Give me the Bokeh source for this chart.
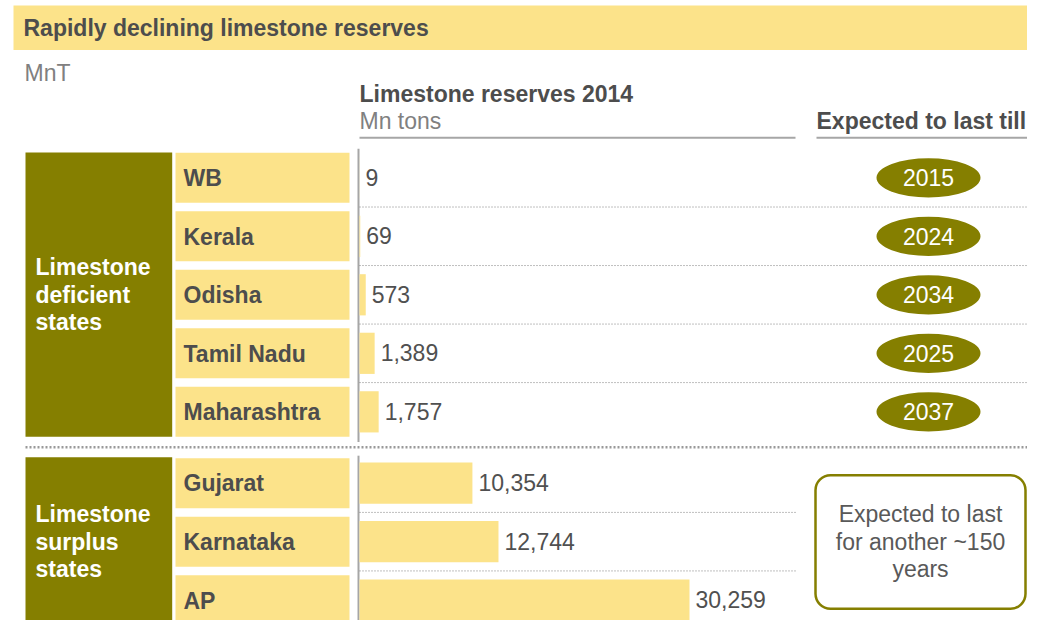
from bokeh.plotting import figure
from bokeh.models import Range1d, BoxAnnotation, ColumnDataSource
from bokeh.core.properties import value
from bokeh.embed import file_html
from bokeh.resources import INLINE

# ---------------- data ----------------
deficient_states = ["WB", "Kerala", "Odisha", "Tamil Nadu", "Maharashtra"]
deficient_reserves = [9, 69, 573, 1389, 1757]
deficient_years = ["2015", "2024", "2034", "2025", "2037"]
surplus_states = ["Gujarat", "Karnataka", "AP"]
surplus_reserves = [10354, 12744, 30259]
group_labels = [["Limestone", "deficient", "states"], ["Limestone", "surplus", "states"]]
title_text = "Rapidly declining limestone reserves"
unit_text = "MnT"
bar_title = "Limestone reserves 2014"
bar_unit = "Mn tons"
year_title = "Expected to last till"
surplus_note = ["Expected to last", "for another ~150", "years"]

# ---------------- style ----------------
YELLOW = "#FCE38A"
OLIVE = "#857F00"
DARK = "#4D4D4D"
VALC = "#505050"
GREY = "#808080"
LINEG = "#A6A6A6"
FONT = value("Liberation Sans")
FS = value("23px")
BL = "alphabetic"
YOFF = -9  # renderer places alphabetic text ~9px low

W, H = 1027, 620
p = figure(width=W, height=H, x_range=Range1d(0, W), y_range=Range1d(634, 2),
           output_backend="svg", toolbar_location=None, min_border=0,
           x_axis_type=None, y_axis_type=None, outline_line_color=None,
           background_fill_color="white", border_fill_color="white")
p.grid.visible = False

# value scale for bars: 0 -> px 359, max -> px 689
bar_x0, bar_px = 359.0, 330.0
scale = bar_px / max(surplus_reserves)
p.extra_x_ranges = {"val": Range1d(-bar_x0 / scale, (W - bar_x0) / scale)}

# row layout
pitch = 59.65
def_y = [182.7 + i * pitch for i in range(len(deficient_states))]
sur_y = [494.0 + i * pitch for i in range(len(surplus_states))]
box_h = 51
bar_h = 42
RIGHT = W


def txt(xs, ys, texts, **kw):
    opts = dict(text_font=FONT, text_font_size=FS, text_baseline=BL, y_offset=YOFF)
    opts.update(kw)
    return p.text(x=xs, y=ys, text=texts, **opts)


# title band
p.quad(left=13, right=RIGHT, top=7, bottom=52.5, fill_color=YELLOW, line_color=None)
txt([23], [39.5], [title_text], text_font_style="bold", text_color=DARK)
txt([24], [85], [unit_text], text_color=GREY)

# headers
txt([359], [106.5], [bar_title], text_font_style="bold", text_color=DARK)
txt([359], [134], [bar_unit], text_color=GREY)
txt([816], [134], [year_title], text_font_style="bold", text_color=DARK)
p.segment(x0=[359, 816], y0=[142, 142], x1=[795, RIGHT], y1=[142, 142],
          line_color=LINEG, line_width=2)

# olive group blocks
p.quad(left=[25, 25], right=[171.7, 171.7],
       top=[def_y[0] - box_h / 2 - 0.3, sur_y[0] - box_h / 2 - 1],
       bottom=[def_y[-1] + box_h / 2, 640], fill_color=OLIVE, line_color=None)
for lines, yc in zip(group_labels, [def_y[2], sur_y[1]]):
    txt([35] * 3, [yc + 9 + (i - 1) * 28.3 for i in range(3)], lines,
        text_font_style="bold", text_color="white")

# state label boxes
all_states = deficient_states + surplus_states
all_y = def_y + sur_y
p.rect(x=[262] * len(all_y), y=all_y, width=174, height=box_h, fill_color=YELLOW, line_color=None)
txt([183] * len(all_y), [y + 9.5 for y in all_y], all_states,
    text_font_style="bold", text_color=DARK)

# vertical axis lines
p.segment(x0=[358, 358], y0=[153, 466], x1=[358, 358], y1=[452, 640], line_color=LINEG, line_width=2)

# dotted row separators
dsep = [(def_y[i] + def_y[i + 1]) / 2 for i in range(len(def_y) - 1)]
ssep = [(sur_y[i] + sur_y[i + 1]) / 2 for i in range(len(sur_y) - 1)]
p.segment(x0=[359] * len(dsep), y0=dsep, x1=[RIGHT] * len(dsep), y1=dsep,
          line_color="#7F7F7F", line_width=1, line_dash="1 2")
p.segment(x0=[359] * len(ssep), y0=ssep, x1=[795] * len(ssep), y1=ssep,
          line_color="#7F7F7F", line_width=1, line_dash="1 2")
# group separator
p.segment(x0=[25], y0=[457.5], x1=[RIGHT], y1=[457.5], line_color="#999999", line_width=2.5,
          line_dash="2 2")

# bars
all_vals = deficient_reserves + surplus_reserves
src = ColumnDataSource(dict(y=all_y, yb=[y + 8.5 for y in all_y], v=all_vals,
                            lab=[f"{v:,}" for v in all_vals]))
p.hbar(y="y", left=0, right="v", height=bar_h, fill_color=YELLOW, line_color=None,
       source=src, x_range_name="val")
p.text(x="v", y="yb", text="lab", x_offset=6, y_offset=YOFF, text_font=FONT, text_font_size=FS,
       text_color=VALC, text_baseline=BL, source=src, x_range_name="val")

# year ellipses
p.ellipse(x=[928] * len(def_y), y=def_y, width=104, height=40, fill_color=OLIVE, line_color=None)
txt([928] * len(def_y), [y + 9 for y in def_y], deficient_years,
    text_color="white", text_align="center")

# surplus note box
p.add_layout(BoxAnnotation(left=815, right=RIGHT - 2, top=486, bottom=622, fill_alpha=0,
                           line_color=OLIVE, line_alpha=1, line_width=2.5, border_radius=15))
txt([(815 + RIGHT - 2) / 2] * 3, [sur_y[1] + 9 + (i - 1) * 28.3 for i in range(3)],
    surplus_note, text_color="#595959", text_align="center")

open("out.html", "w").write(file_html(p, INLINE))
